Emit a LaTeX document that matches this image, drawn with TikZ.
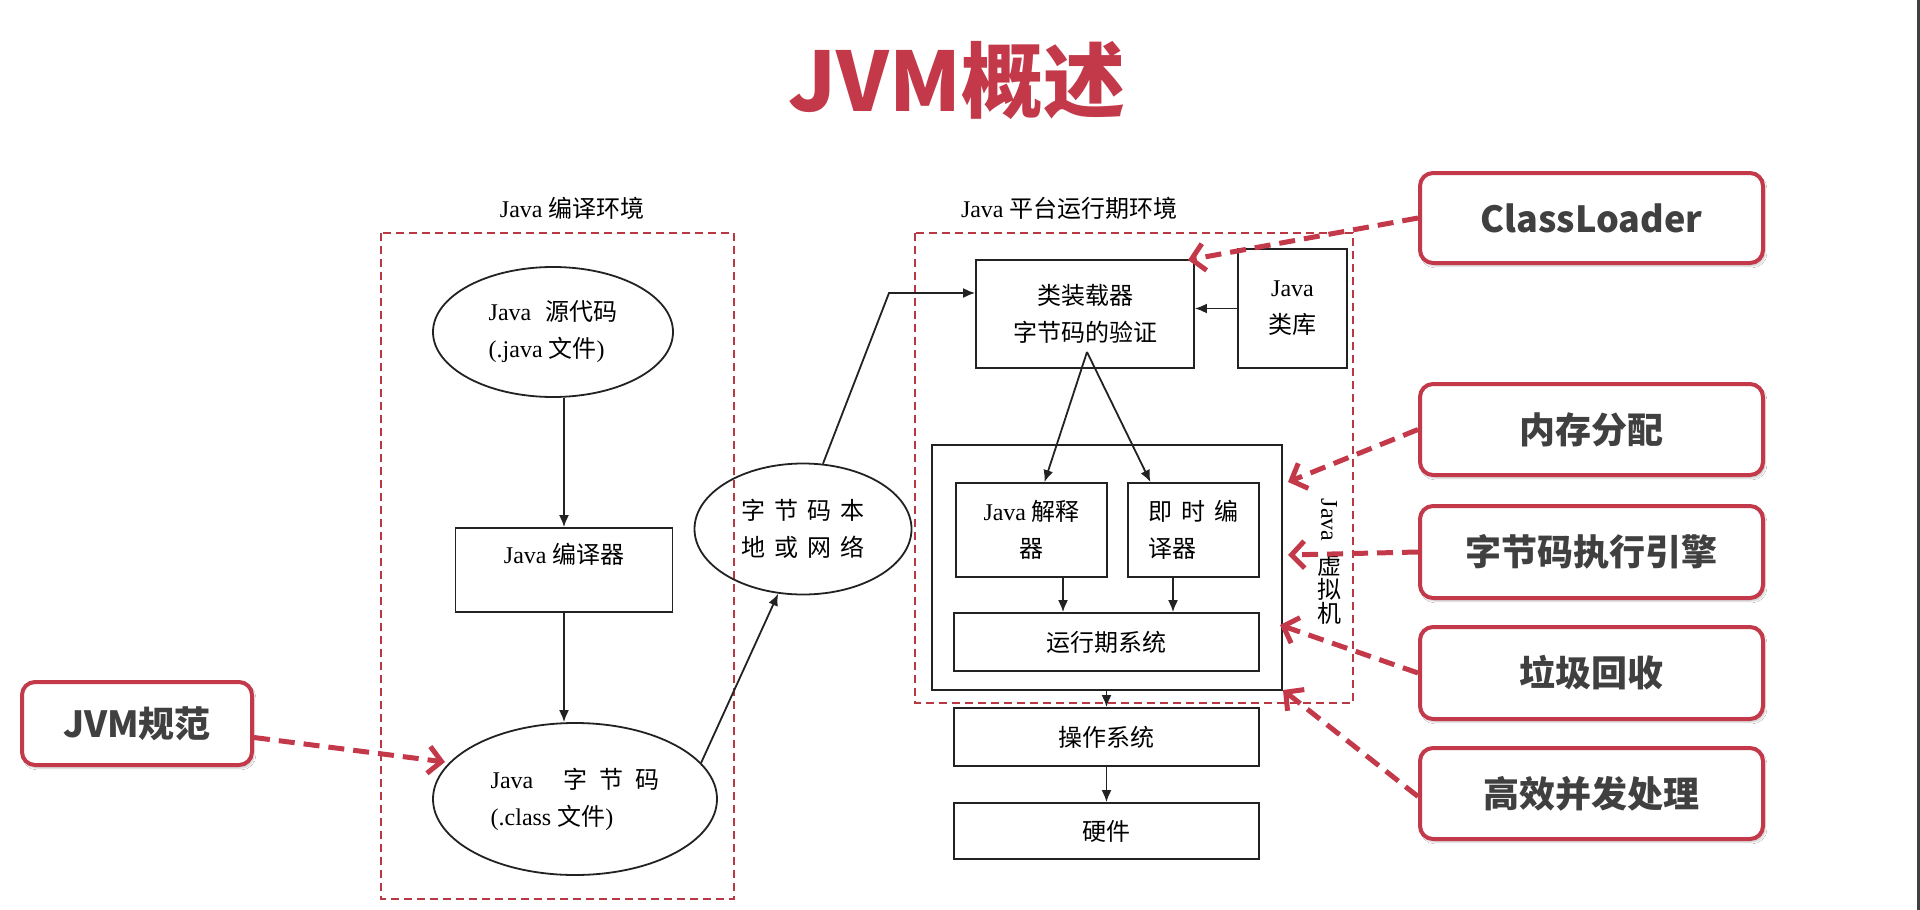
\documentclass[tikz,border=0pt]{standalone}
\usepackage{fontspec}
\setmainfont{Liberation Serif}
\newfontfamily\cjk{Noto Sans CJK SC}
\usetikzlibrary{arrows.meta,shapes.geometric,shadows.blur,calc}
\definecolor{cred}{HTML}{C3394A}
\definecolor{envred}{HTML}{B83844}
\definecolor{ctext}{HTML}{404040}
\definecolor{lineg}{HTML}{222222}
\newcommand\lt[1]{{\rmfamily #1}}
\newcommand\gp{\hspace{9pt}}
\tikzset{
  diag/.style={font=\cjk\fontsize{24}{37}\selectfont, text=black},
  boxn/.style={diag, draw=lineg, line width=1.8pt, rectangle, inner sep=0pt, align=center},
  elln/.style={diag, draw=lineg, line width=1.8pt, ellipse, inner sep=0pt},
  arr/.style={draw=lineg, line width=1.8pt, -{Latex[length=12pt,width=10pt]}},
  callout/.style={draw=cred, line width=4pt, rounded corners=13pt, fill=white,
    font=\cjk\bfseries\fontsize{36}{40}\selectfont, text=ctext,
    minimum width=343pt, minimum height=91pt, inner sep=0pt,
    blur shadow={shadow xshift=2pt, shadow yshift=-3pt, shadow blur steps=6, shadow opacity=22}},
  redarr/.style={draw=cred, line width=5pt, dash pattern=on 16pt off 9pt,
    -{Straight Barb[length=13pt,width=27pt]}},
  env/.style={draw=envred, line width=2pt, dash pattern=on 8pt off 5pt},
}
\begin{document}
\begin{tikzpicture}[x=1pt,y=-1pt]
\useasboundingbox (0,0) rectangle (1920,910);
\fill[white] (0,0) rectangle (1920,910);
\fill[black!75] (1917,0) rectangle (1920,910);

% title
\node[font=\cjk\bfseries\fontsize{82}{92}\selectfont, text=cred, anchor=base] (title) at (957,111) {JVM概述};

% environment frames
\draw[env] (381,233) rectangle (734,899);
\draw[env] (915,233) rectangle (1353,703);
\node[diag] (envc) at (572,208) {\lt{Java} 编译环境};
\node[diag] (envr) at (1069,208) {\lt{Java} 平台运行期环境};

% compile side
\node[elln, minimum width=240pt, minimum height=130pt, align=left] (src) at (553,332)
  {\lt{Java}\hspace{14pt}源代码\\\lt{(.java }文件\lt{)}};
\node[diag, draw=lineg, line width=1.8pt, rectangle, inner sep=0pt,
  minimum width=217pt, minimum height=84pt, text height=18pt, text depth=32pt] (comp) at (564,570)
  {\lt{Java} 编译器};
\node[elln, minimum width=284pt, minimum height=152pt, align=left] (bc) at (575,799)
  {\lt{Java}\hspace{30pt}字\hspace{12pt}节\hspace{12pt}码\\\lt{(.class }文件\lt{)}};
\node[elln, minimum width=217pt, minimum height=131pt, align=center] (net) at (803,529)
  {字\gp 节\gp 码\gp 本\\地\gp 或\gp 网\gp 络};

% runtime side
\node[boxn, minimum width=218pt, minimum height=108pt] (cl) at (1085,314) {类装载器\\字节码的验证};
\node[boxn, minimum width=109pt, minimum height=119pt] (lib) at (1292.5,308.5) {\lt{Java}\\类库};
\node[boxn, minimum width=350pt, minimum height=245pt] (jvm) at (1107,567.5) {};
\node[boxn, minimum width=151pt, minimum height=94pt] (interp) at (1031.5,530) {\lt{Java} 解释\\器};
\node[boxn, minimum width=131pt, minimum height=94pt, align=left] (jit) at (1193.5,530) {即\gp 时\gp 编\\译器};
\node[boxn, minimum width=305pt, minimum height=58pt] (rts) at (1106.5,642) {运行期系统};
\node[boxn, minimum width=305pt, minimum height=58pt] (os) at (1106.5,737) {操作系统};
\node[boxn, minimum width=305pt, minimum height=56pt] (hw) at (1106.5,831) {硬件};

% vertical label
\node[diag, rotate=-90] (vj) at (1329,520) {\lt{Java}};
\node[diag] (v1) at (1329,565) {虚};
\node[diag] (v2) at (1329,589) {拟};
\node[diag] (v3) at (1329,613) {机};

% black connectors
\draw[arr] (src.south -| comp.north) -- (comp.north);
\draw[arr] (comp.south) -- (comp.south |- bc.north);
\draw[arr] (bc.16) -- (net.249);
\coordinate (bend) at (889,293);
\draw[arr] (net.73) -- (bend) -- (bend -| cl.west);
\draw[arr] (lib.west) -- (lib.west -| cl.east);
\coordinate (apex) at (1087,352);
\draw[arr] (apex) -- ([xshift=13pt]interp.north);
\draw[arr] (apex) -- ([xshift=-43pt]jit.north);
\draw[arr] ([xshift=31.5pt]interp.south) -- ([xshift=31.5pt]interp.south |- rts.north);
\draw[arr] ([xshift=-20.5pt]jit.south) -- ([xshift=-20.5pt]jit.south |- rts.north);
\draw[arr] (jvm.south -| os.north) -- (os.north);
\draw[arr] (os.south) -- (hw.north);

% callouts
\node[callout, minimum height=90pt] (c1) at (1591.5,218) {ClassLoader};
\node[callout] (c2) at (1591.5,429.5) {内存分配};
\node[callout, minimum height=92pt] (c3) at (1591.5,552) {字节码执行引擎};
\node[callout, minimum height=92pt] (c4) at (1591.5,673) {垃圾回收};
\node[callout] (c5) at (1591.5,793.5) {高效并发处理};
\node[callout, minimum width=230pt, minimum height=83pt] (c6) at (137,723.5) {JVM规范};

% red dashed arrows
\coordinate (t1) at (1188,260);
\coordinate (t2) at (1288,482);
\coordinate (t3) at (1288,555);
\coordinate (t4) at (1280,625);
\coordinate (t5) at (1283,690);
\coordinate (t6) at (445,762);
\draw[redarr] (c1.west) -- (t1);
\draw[redarr] (c2.west) -- (t2);
\draw[redarr] (c3.west) -- (t3);
\draw[redarr] (c4.west) -- (t4);
\draw[redarr] ([yshift=-3pt]c5.west) -- (t5);
\draw[redarr] ([yshift=-14pt]c6.east) -- (t6);
\end{tikzpicture}
\end{document}
